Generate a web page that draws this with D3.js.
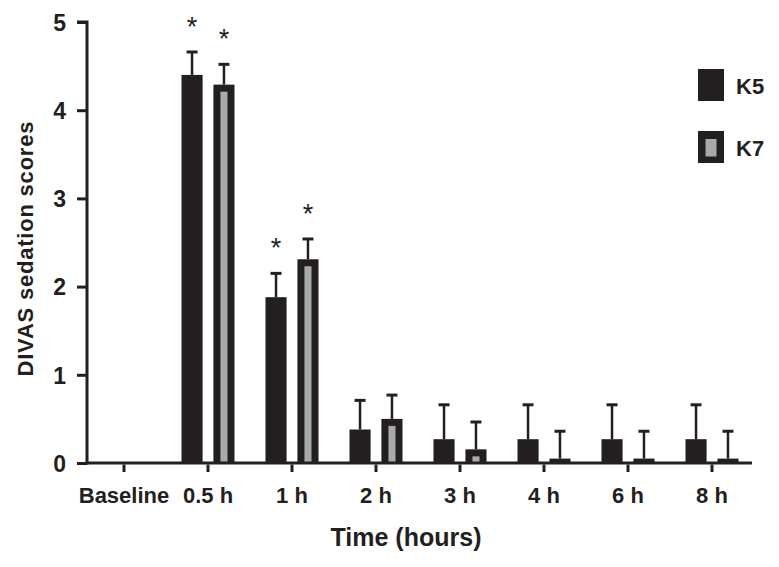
<!DOCTYPE html>
<html>
<head>
<meta charset="utf-8">
<script src="https://cdn.jsdelivr.net/npm/d3@7"></script>
<style>
  body { margin: 0; background: #fff; }
  text { font-family: "Liberation Sans", Arial, Helvetica, sans-serif; font-weight: bold; fill: #231f20; }
</style>
</head>
<body>
<div class="canvas"></div>
<script>
// data
const times = ['Baseline', '0.5 h', '1 h', '2 h', '3 h', '4 h', '6 h', '8 h'];
const series = ['K5', 'K7'];
const k5 = [0, 4.40, 1.88, 0.38, 0.27, 0.27, 0.27, 0.27];
const k7 = [0, 4.29, 2.31, 0.50, 0.155, 0.05, 0.05, 0.05];
const k5Err = [0, 0.26, 0.27, 0.33, 0.39, 0.39, 0.39, 0.39];
const k7Err = [0, 0.23, 0.23, 0.27, 0.31, 0.31, 0.31, 0.31];
const k5Star = [false, true, true, false, false, false, false, false];
const k7Star = [false, true, true, false, false, false, false, false];
const yTicks = [0, 1, 2, 3, 4, 5];

const ink = '#231f20';
const grey = '#a7a9ac';

const svg = d3.select('.canvas')
    .append('svg')
        .attr('width', 779)
        .attr('height', 567);

// scales
const x = d3.scaleBand()
    .domain(times)
    .range([82, 754]);

const half = x.bandwidth() / 2;
const x1 = d3.scaleBand()
    .domain(series)
    .range([half - 26.5, half + 26.5])
    .paddingInner(0.34);

const y = d3.scaleLinear()
    .domain([0, 5])
    .range([463, 22]);

// build rows from the arrays
const data = [];
times.forEach((t, i) => {
    data.push({time: t, key: 'K5', value: k5[i], err: k5Err[i], star: k5Star[i]});
    data.push({time: t, key: 'K7', value: k7[i], err: k7Err[i], star: k7Star[i]});
});
const shown = data.filter(d => d.value > 0);

const bx = d => x(d.time) + x1(d.key);
const bw = x1.bandwidth();

// error bars (drawn first so bars cover the stem)
const errs = svg.append('g').attr('stroke', ink);
errs.selectAll('line.stem')
    .data(shown)
    .enter()
    .append('line')
        .attr('class', 'stem')
        .attr('x1', d => bx(d) + bw / 2)
        .attr('x2', d => bx(d) + bw / 2)
        .attr('y1', d => y(d.value))
        .attr('y2', d => y(d.value + d.err))
        .attr('stroke-width', 2.5);
errs.selectAll('line.cap')
    .data(shown)
    .enter()
    .append('line')
        .attr('class', 'cap')
        .attr('x1', d => bx(d) + bw / 2 - 5.5)
        .attr('x2', d => bx(d) + bw / 2 + 5.5)
        .attr('y1', d => y(d.value + d.err))
        .attr('y2', d => y(d.value + d.err))
        .attr('stroke-width', 3);

// bars
svg.selectAll('rect.bar')
    .data(shown)
    .enter()
    .append('rect')
        .attr('class', 'bar')
        .attr('x', bx)
        .attr('y', d => y(d.value))
        .attr('width', bw)
        .attr('height', d => y(0) - y(d.value))
        .attr('fill', ink);

// grey core of K7 bars
const border = 7;
svg.selectAll('rect.core')
    .data(shown.filter(d => d.key === 'K7' && y(0) - y(d.value) > border + 2))
    .enter()
    .append('rect')
        .attr('class', 'core')
        .attr('x', d => bx(d) + border)
        .attr('y', d => y(d.value) + border)
        .attr('width', bw - 2 * border)
        .attr('height', d => y(0) - y(d.value) - border)
        .attr('fill', grey);

// significance stars
svg.selectAll('text.star')
    .data(shown.filter(d => d.star))
    .enter()
    .append('text')
        .attr('class', 'star')
        .attr('x', d => bx(d) + bw / 2)
        .attr('y', d => y(d.value + d.err) - 16)
        .attr('text-anchor', 'middle')
        .style('font-weight', 'normal')
        .style('font-size', '27px')
        .text('*');

// axes
const yAxis = d3.axisLeft(y)
    .tickValues(yTicks)
    .tickSize(10)
    .tickSizeOuter(0)
    .tickPadding(11)
    .tickFormat(d3.format('d'));

const yAxisGroup = svg.append('g')
    .attr('transform', 'translate(87,0)')
    .call(yAxis);
yAxisGroup.selectAll('path, line').attr('stroke', ink).attr('stroke-width', 3);
yAxisGroup.select('.domain').attr('d', `M-10,${y(5)}H0V${y(0) + 1.5}`);
yAxisGroup.selectAll('text')
    .attr('fill', ink)
    .style('font-size', '23px')
    .style('font-family', '"Liberation Sans", Arial, sans-serif')
    .style('font-weight', 'bold')
    .attr('dy', '0.36em');

const xAxis = d3.axisBottom(x)
    .tickSize(9)
    .tickSizeOuter(0);

const xAxisGroup = svg.append('g')
    .attr('transform', `translate(0,${y(0)})`)
    .call(xAxis);
xAxisGroup.select('.domain').attr('d', 'M87,0H752');
xAxisGroup.selectAll('path, line').attr('stroke', ink).attr('stroke-width', 3);
xAxisGroup.selectAll('line').attr('y1', 1.5);
xAxisGroup.selectAll('text')
    .attr('fill', ink)
    .attr('y', 40)
    .attr('dy', 0)
    .style('font-size', '22px')
    .style('font-family', '"Liberation Sans", Arial, sans-serif')
    .style('font-weight', 'bold');

// axis titles
svg.append('text')
    .attr('x', 406)
    .attr('y', 546)
    .attr('text-anchor', 'middle')
    .style('font-size', '25px')
    .text('Time (hours)');

svg.append('text')
    .attr('transform', 'translate(33,249) rotate(-90)')
    .attr('text-anchor', 'middle')
    .style('font-size', '22px')
    .attr('textLength', 255)
    .attr('lengthAdjust', 'spacing')
    .text('DIVAS sedation scores');

// legend
const legend = svg.append('g').attr('transform', 'translate(698,69)');
series.forEach((s, i) => {
    const g = legend.append('g').attr('transform', `translate(0,${i * 62})`);
    g.append('rect')
        .attr('width', 26)
        .attr('height', 32)
        .attr('fill', ink);
    if (s === 'K7') {
        g.append('rect')
            .attr('x', 7.5)
            .attr('y', 8)
            .attr('width', 11)
            .attr('height', 17.5)
            .attr('fill', grey);
    }
    g.append('text')
        .attr('x', 38)
        .attr('y', 25)
        .style('font-size', '22px')
        .text(s);
});
</script>
</body>
</html>
